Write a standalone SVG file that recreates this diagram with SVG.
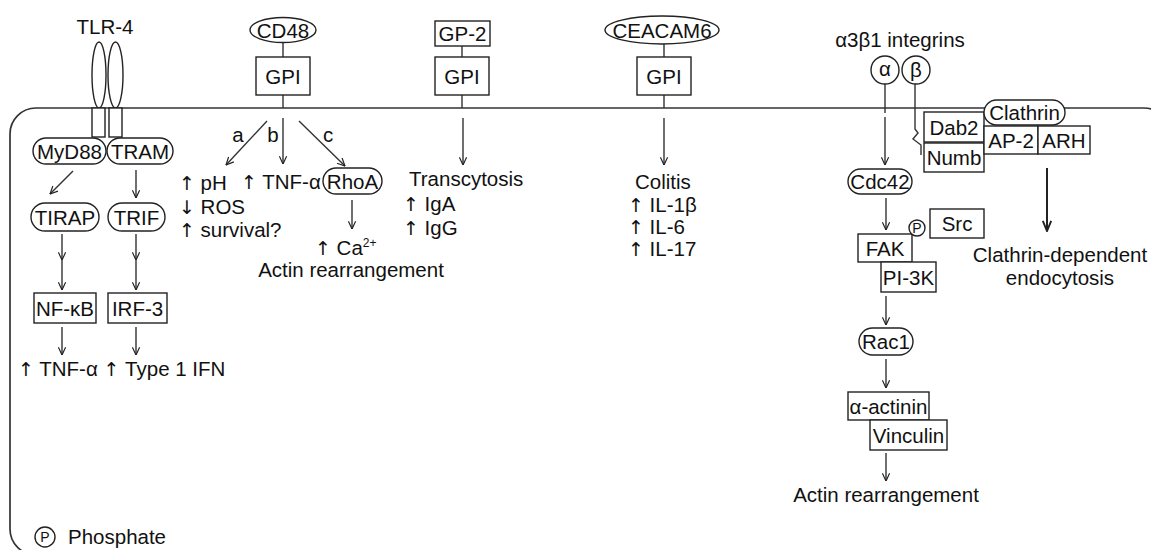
<svg xmlns="http://www.w3.org/2000/svg" width="1151" height="550" viewBox="0 0 1151 550">
<style>
text{font-family:"Liberation Sans",Arial,sans-serif;font-size:20.5px;fill:#111}
.c{text-anchor:middle}
.a{font-family:"DejaVu Sans",sans-serif;font-size:19px;fill:#111}
.sh{fill:#fff;stroke:#222;stroke-width:1.4}
.ln{fill:none;stroke:#333;stroke-width:1.4}
.ar{fill:none;stroke:#333;stroke-width:1.4;marker-end:url(#ah)}
.arb{fill:none;stroke:#222;stroke-width:2;marker-end:url(#ahb)}
.cell{fill:none;stroke:#333;stroke-width:1.7}
.sm{font-size:14px}
</style>
<defs>
<marker id="ah" viewBox="0 0 10 10" refX="9.5" refY="5" markerWidth="9" markerHeight="9" markerUnits="userSpaceOnUse" orient="auto">
<path d="M1,1 L9.5,5 L1,9" fill="none" stroke="#222" stroke-width="1.3"/>
</marker>
<marker id="ahb" viewBox="0 0 10 10" refX="9.5" refY="5" markerWidth="12" markerHeight="12" markerUnits="userSpaceOnUse" orient="auto">
<path d="M1,1.5 L9.5,5 L1,8.5" fill="none" stroke="#222" stroke-width="1.6"/>
</marker>
</defs>
<rect id="cell" class="cell" x="10" y="108" width="1160" height="447" rx="26"/>
<g id="connectors">
<line class="ar" x1="73" y1="171" x2="50" y2="194"/>
<line class="ar" x1="136" y1="170" x2="136" y2="198"/>
<line class="ar" x1="62" y1="234" x2="62" y2="260"/>
<line class="ar" x1="62" y1="260" x2="62" y2="290"/>
<line class="ar" x1="136" y1="234" x2="136" y2="260"/>
<line class="ar" x1="136" y1="260" x2="136" y2="290"/>
<line class="ar" x1="62" y1="327" x2="62" y2="355"/>
<line class="ar" x1="136" y1="327" x2="136" y2="355"/>
<line class="ln" x1="283" y1="42" x2="283" y2="57"/>
<line class="ln" x1="283" y1="95" x2="283" y2="108"/>
<line class="ar" x1="267" y1="121" x2="226" y2="165"/>
<line class="ar" x1="283" y1="118" x2="283" y2="164"/>
<line class="ar" x1="299" y1="121" x2="345" y2="166"/>
<line class="ar" x1="352" y1="200" x2="352" y2="229"/>
<line class="ln" x1="462" y1="46" x2="462" y2="57"/>
<line class="ln" x1="462" y1="95" x2="462" y2="108"/>
<line class="ar" x1="463" y1="118" x2="463" y2="165"/>
<line class="ln" x1="664" y1="44" x2="664" y2="57"/>
<line class="ln" x1="664" y1="95" x2="664" y2="108"/>
<line class="ar" x1="664" y1="118" x2="664" y2="165"/>
<line class="ln" x1="885" y1="84" x2="885" y2="113"/>
<line class="ar" x1="885" y1="117" x2="885" y2="165"/>
<path class="ln" d="M915,84 V129 L918,133 L913,139 L921,145 V155"/>
<line class="ar" x1="886" y1="198" x2="886" y2="230"/>
<line class="ar" x1="886" y1="296" x2="886" y2="325"/>
<line class="ar" x1="886" y1="359" x2="886" y2="388"/>
<line class="ar" x1="886" y1="453" x2="886" y2="481"/>
<line class="arb" x1="1047" y1="168" x2="1047" y2="231"/>
</g>
<g id="tlr4">
<text class="c" x="105" y="34">TLR-4</text>
<ellipse class="sh" cx="99" cy="75" rx="7" ry="33"/>
<ellipse class="sh" cx="115.5" cy="75" rx="7.5" ry="33"/>
<rect class="sh" x="92" y="108" width="13" height="29"/>
<rect class="sh" x="109" y="108" width="13" height="29"/>
</g>
<g id="myd88"><rect class="sh" x="33" y="138" width="73" height="26" rx="13"/><text class="c" x="69.5" y="158.5">MyD88</text></g>
<g id="tram"><rect class="sh" x="107" y="138" width="66" height="26" rx="13"/><text class="c" x="140" y="158.5">TRAM</text></g>
<g id="tirap"><rect class="sh" x="31" y="203" width="68" height="28" rx="14"/><text class="c" x="65" y="224.5">TIRAP</text></g>
<g id="trif"><rect class="sh" x="108" y="203" width="57" height="28" rx="14"/><text class="c" x="136.5" y="224.5">TRIF</text></g>
<g id="nfkb"><rect class="sh" x="34" y="293" width="62" height="30"/><text class="c" x="65" y="315.5">NF-κB</text></g>
<g id="irf3"><rect class="sh" x="108" y="293" width="59" height="30"/><text class="c" x="137.5" y="315.5">IRF-3</text></g>
<g id="tlr-out"><text x="18" y="376"><tspan class="a">↑</tspan> TNF-α <tspan class="a">↑</tspan> Type 1 IFN</text></g>
<g id="cd48">
<ellipse class="sh" cx="283" cy="30" rx="33" ry="12.5"/><text class="c" x="283" y="37.5">CD48</text>
<rect class="sh" x="256" y="57" width="54" height="38"/><text class="c" x="283" y="83.5">GPI</text>
</g>
<g id="cd48-labels">
<text class="c" x="238" y="142">a</text>
<text class="c" x="273" y="142">b</text>
<text class="c" x="328" y="142">c</text>
<text x="179" y="190"><tspan class="a">↑</tspan> pH</text>
<text x="179" y="214"><tspan class="a">↓</tspan> ROS</text>
<text x="179" y="237"><tspan class="a">↑</tspan> survival?</text>
<text x="241" y="189"><tspan class="a">↑</tspan> TNF-α</text>
</g>
<g id="rhoa"><rect class="sh" x="323" y="168" width="59" height="26" rx="13"/><text class="c" x="352.5" y="188.5">RhoA</text></g>
<g id="rhoa-out">
<text x="315" y="255"><tspan class="a">↑</tspan> Ca<tspan font-size="12" dy="-8">2+</tspan></text>
<text class="c" x="351" y="277">Actin rearrangement</text>
</g>
<g id="gp2">
<rect class="sh" x="435" y="21" width="55" height="25"/><text class="c" x="462.5" y="41">GP-2</text>
<rect class="sh" x="435" y="57" width="54" height="38"/><text class="c" x="462" y="83.5">GPI</text>
</g>
<g id="gp2-out">
<text x="409" y="186">Transcytosis</text>
<text x="403" y="211"><tspan class="a">↑</tspan> IgA</text>
<text x="403" y="235"><tspan class="a">↑</tspan> IgG</text>
</g>
<g id="ceacam6">
<ellipse class="sh" cx="662" cy="30" rx="57" ry="14"/><text class="c" x="662" y="37.5">CEACAM6</text>
<rect class="sh" x="637" y="57" width="54" height="38"/><text class="c" x="664" y="83.5">GPI</text>
</g>
<g id="ceacam6-out">
<text x="635" y="189">Colitis</text>
<text x="628" y="212"><tspan class="a">↑</tspan> IL-1β</text>
<text x="628" y="234"><tspan class="a">↑</tspan> IL-6</text>
<text x="628" y="256"><tspan class="a">↑</tspan> IL-17</text>
</g>
<g id="integrins">
<text class="c" x="900" y="47">α3β1 integrins</text>
<circle class="sh" cx="885" cy="70" r="14"/><text class="c" x="885" y="76">α</text>
<circle class="sh" cx="916" cy="70" r="14"/><text class="c" x="916" y="77">β</text>
</g>
<g id="dab2"><rect class="sh" x="924" y="112" width="60" height="30"/><text class="c" x="954" y="134.5">Dab2</text></g>
<g id="numb"><rect class="sh" x="924" y="143" width="60" height="29"/><text class="c" x="954" y="165">Numb</text></g>
<g id="clathrin"><rect class="sh" x="984" y="100" width="81" height="25" rx="12.5"/><text class="c" x="1024.5" y="120">Clathrin</text></g>
<g id="ap2"><rect class="sh" x="984" y="126" width="54" height="28"/><text class="c" x="1011" y="147.5">AP-2</text></g>
<g id="arh"><rect class="sh" x="1038" y="126" width="52" height="28"/><text class="c" x="1064" y="147.5">ARH</text></g>
<g id="endocytosis">
<text class="c" x="1060" y="262">Clathrin-dependent</text>
<text class="c" x="1060" y="285">endocytosis</text>
</g>
<g id="cdc42"><rect class="sh" x="848" y="169" width="64" height="25" rx="12.5"/><text class="c" x="880" y="188.5">Cdc42</text></g>
<g id="src"><rect class="sh" x="930" y="209" width="54" height="29"/><text class="c" x="957" y="231">Src</text></g>
<g id="fak"><rect class="sh" x="858" y="234" width="54" height="28"/><text class="c" x="885" y="255.5">FAK</text></g>
<g id="phos"><circle class="sh" cx="917" cy="228" r="8"/><text class="c sm" x="917" y="233">P</text></g>
<g id="pi3k"><rect class="sh" x="881" y="262" width="55" height="30"/><text class="c" x="908.5" y="284.5">PI-3K</text></g>
<g id="rac1"><rect class="sh" x="859" y="328" width="54" height="27" rx="13.5"/><text class="c" x="886" y="349">Rac1</text></g>
<g id="actinin"><rect class="sh" x="848" y="392" width="81" height="28"/><text class="c" x="888.5" y="413.5">α-actinin</text></g>
<g id="vinculin"><rect class="sh" x="870" y="420" width="77" height="30"/><text class="c" x="908.5" y="442.5">Vinculin</text></g>
<g id="integrin-out"><text class="c" x="886" y="502">Actin rearrangement</text></g>
<g id="legend">
<circle class="sh" cx="45" cy="537" r="10"/><text class="c sm" x="45" y="542">P</text>
<text x="68" y="544">Phosphate</text>
</g>
</svg>
